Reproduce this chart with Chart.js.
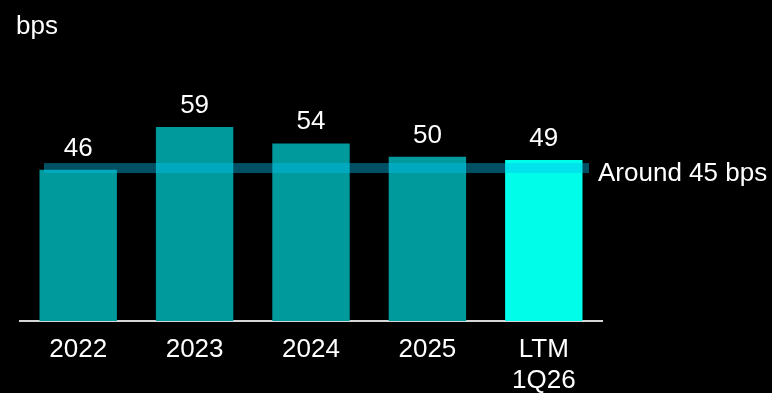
<!DOCTYPE html>
<html>
<head>
<meta charset="utf-8">
<script src="https://cdn.jsdelivr.net/npm/chart.js@4"></script>
<style>
  html, body { margin: 0; padding: 0; background: #000; }
  canvas { display: block; }
</style>
</head>
<body>
<canvas id="spreadChart" width="772" height="393"></canvas>
<script>
const categories = ["2022", "2023", "2024", "2025", ["LTM", "1Q26"]];
const spreadBps = [46, 59, 54, 50, 49];
const barColors = ["#009a9c", "#009a9c", "#009a9c", "#009a9c", "#00fde9"];
const benchmarkBps = 45;
const benchmarkLabel = "Around 45 bps";
const unitLabel = "bps";

const FONT = "'Liberation Sans', Arial, sans-serif";

// value labels, the benchmark band and the unit caption
const overlayPlugin = {
  id: "overlay",
  afterDatasetsDraw(chart){
    const ctx = chart.ctx;
    const area = chart.chartArea;
    const y = chart.scales.y;
    const bandY = y.getPixelForValue(benchmarkBps);

    ctx.save();
    ctx.fillStyle = "rgba(0,190,238,0.42)";
    ctx.fillRect(area.left + 24, bandY - 10, area.right - 13 - (area.left + 24), 10);

    ctx.font = "26px " + FONT;
    ctx.fillStyle = "#fff";
    ctx.textBaseline = "alphabetic";

    ctx.textAlign = "left";
    ctx.fillText(benchmarkLabel, area.right - 4, bandY + 8);
    ctx.fillText(unitLabel, 16, 34);

    ctx.textAlign = "center";
    chart.getDatasetMeta(0).data.forEach((bar, i) => {
      ctx.fillText(String(spreadBps[i]), bar.x, bar.y - 14);
    });
    ctx.restore();
  }
};

new Chart(document.getElementById("spreadChart").getContext("2d"), {
  type: "bar",
  data: {
    labels: categories,
    datasets: [{
      data: spreadBps,
      backgroundColor: barColors,
      borderWidth: 0,
      categoryPercentage: 1,
      barPercentage: 0.665
    }]
  },
  options: {
    responsive: false,
    animation: false,
    layout: { padding: { left: 20, right: 170, top: 58, bottom: 0 } },
    plugins: {
      legend: { display: false },
      tooltip: { enabled: false },
      title: { display: false }
    },
    scales: {
      x: {
        grid: { display: false, drawTicks: false },
        border: { display: true, color: "#d6d6d6", width: 2 },
        ticks: {
          color: "#fff",
          font: { family: FONT, size: 26, lineHeight: 1.2 },
          padding: 13,
          maxRotation: 0,
          autoSkip: false
        },
        afterFit(scale){ scale.height = 72; }
      },
      y: {
        display: false,
        min: 0,
        max: 80
      }
    }
  },
  plugins: [overlayPlugin]
});
</script>
</body>
</html>
